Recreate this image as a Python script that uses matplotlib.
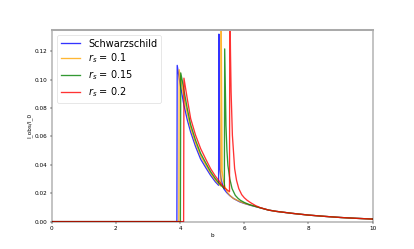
import matplotlib
matplotlib.use('Agg')
import matplotlib.pyplot as plt

# ── Datos (b, I_obs/I_0) ──
b_schw = [0, 3.90, 3.91, 4.00, 4.12, 4.22, 4.33, 4.48, 4.64, 4.80, 4.95, 5.10, 5.20,
          5.21, 5.225, 5.24, 5.27, 5.31, 5.36, 5.45, 5.55, 5.67, 5.85, 6.00, 6.19,
          6.50, 6.76, 7.00, 7.50, 8.00, 8.50, 9.00, 9.50, 10.0]
I_schw = [0, 0, 0.110, 0.097, 0.082, 0.072, 0.063, 0.053, 0.044, 0.038, 0.0326, 0.028, 0.0256,
          0.132, 0.080, 0.0373, 0.031, 0.027, 0.0232, 0.0205, 0.0183, 0.0162, 0.0140, 0.0128, 0.0115,
          0.0097, 0.0081, 0.0072, 0.0058, 0.0046, 0.0037, 0.0029, 0.0023, 0.0018]

b_rs01 = [0, 3.96, 3.97, 4.05, 4.12, 4.22, 4.33, 4.48, 4.64, 4.80, 4.95, 5.10, 5.20, 5.27,
          5.28, 5.295, 5.31, 5.34, 5.40, 5.47, 5.55, 5.65, 5.78, 5.90, 6.05, 6.20,
          6.50, 6.76, 7.00, 7.50, 8.00, 8.50, 9.00, 9.50, 10.0]
I_rs01 = [0, 0, 0.107, 0.096, 0.0877, 0.0765, 0.0659, 0.0554, 0.0462, 0.0398, 0.034, 0.0292, 0.0266, 0.0250,
          0.150, 0.090, 0.036, 0.030, 0.0245, 0.0208, 0.0185, 0.0165, 0.0150, 0.0138, 0.0125, 0.0116,
          0.0097, 0.0081, 0.0072, 0.0058, 0.0046, 0.0037, 0.0029, 0.0023, 0.0018]

b_rs015 = [0, 4.01, 4.02, 4.07, 4.12, 4.22, 4.33, 4.48, 4.64, 4.80, 4.95, 5.10, 5.20, 5.30, 5.38,
           5.39, 5.43, 5.46, 5.49, 5.55, 5.62, 5.72, 5.80, 5.88, 6.00, 6.10, 6.20,
           6.50, 6.76, 7.00, 7.50, 8.00, 8.50, 9.00, 9.50, 10.0]
I_rs015 = [0, 0, 0.1047, 0.099, 0.0925, 0.080, 0.0682, 0.0574, 0.048, 0.0413, 0.0352, 0.0302, 0.0275, 0.025, 0.0232,
           0.1216, 0.0678, 0.050, 0.0396, 0.030, 0.0232, 0.0185, 0.0165, 0.0150, 0.0135, 0.0125, 0.0117,
           0.0097, 0.0081, 0.0072, 0.0058, 0.0046, 0.0037, 0.0029, 0.0023, 0.0018]

b_rs02 = [0, 4.11, 4.12, 4.22, 4.33, 4.48, 4.64, 4.80, 4.95, 5.10, 5.20, 5.30, 5.40, 5.54,
          5.55, 5.57, 5.59, 5.63, 5.70, 5.76, 5.83, 5.92, 6.00, 6.09, 6.20, 6.35,
          6.50, 6.76, 7.00, 7.50, 8.00, 8.50, 9.00, 9.50, 10.0]
I_rs02 = [0, 0, 0.101, 0.087, 0.0725, 0.061, 0.0514, 0.044, 0.0373, 0.032, 0.029, 0.026, 0.0235, 0.021,
          0.160, 0.120, 0.0913, 0.0608, 0.0373, 0.029, 0.0232, 0.019, 0.0168, 0.0150, 0.0133, 0.0113,
          0.0098, 0.0081, 0.0072, 0.0058, 0.0046, 0.0037, 0.0029, 0.0023, 0.0018]

series = [
    (b_schw, I_schw, 'blue', 'Schwarzschild'),
    (b_rs01, I_rs01, 'orange', r'$r_s$ = 0.1'),
    (b_rs015, I_rs015, 'green', r'$r_s$ = 0.15'),
    (b_rs02, I_rs02, 'red', r'$r_s$ = 0.2'),
]

fig, ax = plt.subplots(figsize=(10, 6.015), dpi=41.4)

for b, I, col, lab in series:
    ax.plot(b, I, color=col, alpha=0.8, lw=2.3, label=lab)

ax.set_xlim(0, 10)
ax.set_ylim(0, 0.135)
ax.set_xlabel('b')
ax.set_ylabel('I_obs/I_0')
ax.spines['top'].set_color('#aaaaaa')
ax.spines['top'].set_linewidth(3.5)
ax.legend(loc='upper left', fontsize=17, labelspacing=0.3)

fig.savefig('out.png', dpi=41.4)
